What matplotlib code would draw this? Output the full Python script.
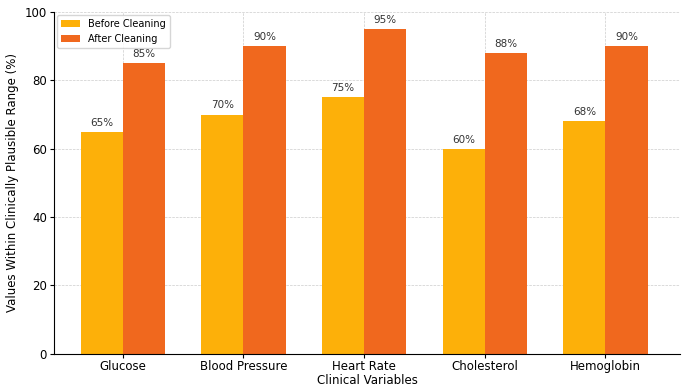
import numpy as np
import matplotlib.pyplot as plt

categories = ['Glucose', 'Blood Pressure', 'Heart Rate', 'Cholesterol', 'Hemoglobin']
before = [65, 70, 75, 60, 68]
after = [85, 90, 95, 88, 90]

x = np.arange(len(categories))
w = 0.35

fig = plt.figure(figsize=(6.83, 3.88), dpi=100)
ax = fig.add_axes([0.079, 0.088, 0.917, 0.881])

b1 = ax.bar(x - w/2, before, w, color='#FDB009', label='Before Cleaning', zorder=2)
b2 = ax.bar(x + w/2, after, w, color='#F0681E', label='After Cleaning', zorder=2)

for bars, vals in [(b1, before), (b2, after)]:
    for b, v in zip(bars, vals):
        ax.text(b.get_x() + b.get_width()/2, v + 1.2, f'{v}%', ha='center', va='bottom',
                fontsize=7.5, color='#333333')

ax.set_xticks(x)
ax.set_xticklabels(categories, fontsize=8.5)
ax.tick_params(axis='x', pad=1.5, length=3)
ax.tick_params(axis='y', labelsize=8.5, length=3, pad=2)
ax.set_xlim(-0.57, 4.62)
ax.set_ylim(0, 100)
ax.set_xlabel('Clinical Variables', fontsize=8.5, labelpad=1)
ax.set_ylabel('Values Within Clinically Plausible Range (%)', fontsize=8.5, labelpad=4)
ax.grid(True, linestyle='--', linewidth=0.5, color='#cccccc', zorder=0)
ax.spines['top'].set_visible(False)
ax.spines['right'].set_visible(False)
ax.legend(loc='upper left', fontsize=7, borderaxespad=0.3)

plt.savefig('out.png', dpi=100)
